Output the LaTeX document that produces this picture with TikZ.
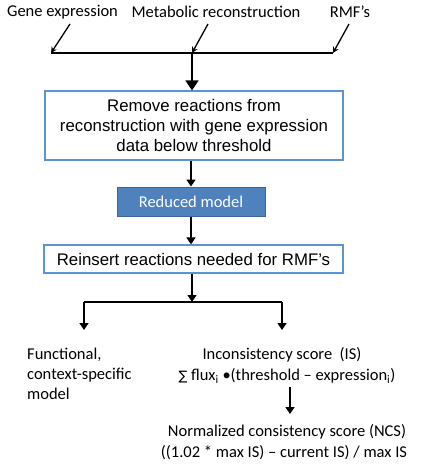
\documentclass[tikz,border=0pt]{standalone}
\usepackage{fontspec}
\setmainfont{Carlito}
\newfontfamily\arialf{Liberation Sans}
\newfontfamily\symf{DejaVu Sans}
\usetikzlibrary{arrows.meta}
\definecolor{lightbord}{HTML}{5E92D2}
\definecolor{redfill}{HTML}{4F81BD}
\definecolor{reddraw}{HTML}{3B6699}
\tikzset{
  lbl/.style={font=\fontsize{16.5}{20}\selectfont, inner sep=0pt},
  boxw/.style={draw=lightbord, line width=1.2pt, fill=white, font=\arialf\fontsize{16.8}{20}\selectfont, align=center, inner sep=0pt},
  boxb/.style={draw=reddraw, line width=1pt, fill=redfill, text=white, font=\fontsize{16.5}{20}\selectfont, inner sep=0pt},
  conn/.style={line width=1.6pt},
  arr/.style={line width=1.5pt, -{Triangle[width=9pt,length=7pt]}},
  bigarr/.style={line width=1.5pt, -{Triangle[width=13pt,length=10pt]}},
  thinarr/.style={line width=1.3pt, -{Stealth[width=6pt,length=6pt]}},
}
\begin{document}
\begin{tikzpicture}[x=1pt,y=-1pt]
\useasboundingbox (0,0) rectangle (421,475);
% top labels
\node[lbl] (gene) at (62.5,12) {Gene expression};
\node[lbl] (metab) at (216,12) {Metabolic reconstruction};
\node[lbl] (rmf) at (350,12) {RMF’s};
\coordinate (g1) at (70,24); \coordinate (g2) at (51,53);
\coordinate (m1) at (208,24); \coordinate (m2) at (192,53);
\coordinate (r1) at (349,24); \coordinate (r2) at (333,53);
\draw[thinarr] (g1) -- (g2);
\draw[thinarr] (m1) -- (m2);
\draw[thinarr] (r1) -- (r2);
\draw[conn] (g2) -- (r2);
% boxes
\node[boxw, minimum width=298pt, minimum height=69pt] (box1) at (194,125.5)
  {Remove reactions from\\reconstruction with gene expression\\data below threshold};
\node[boxb, minimum width=148pt, minimum height=29pt] (red) at (191,201.5) {Reduced model};
\node[boxw, minimum width=299pt, minimum height=28pt] (reins) at (193.5,259)
  {Reinsert reactions needed for RMF’s};
\draw[bigarr] (m2) -- (m2 |- box1.north);
\draw[arr] (box1.south -| red.north) -- (red.north);
\draw[arr] (red.south) -- (red.south |- reins.north);
% branch
\coordinate (br) at (192,302);
\coordinate (bl) at (84,302);
\coordinate (brr) at (282,302);
\coordinate (fl) at (84,330);
\coordinate (fr) at (282,330);
\draw[arr] (reins.south -| br) -- (br);
\draw[conn] (bl) -- (brr);
\draw[arr] (bl) -- (fl);
\draw[arr] (brr) -- (fr);
% bottom texts
\node[lbl, anchor=west, align=left] (func) at (27,374)
  {Functional,\\context-specific\\model};
\node[lbl] (is) at (282,355) {Inconsistency score\ \ (IS)};
\node[lbl] (sum) at (287,376) {{\symf\fontsize{13}{16}\selectfont ∑} flux\textsubscript{i} •(threshold – expression\textsubscript{i})};
\coordinate (a1) at (290,387);
\coordinate (a2) at (290,414);
\draw[arr] (a1) -- (a2);
\node[lbl] (ncs) at (287,432) {Normalized consistency score (NCS)};
\node[lbl] (form) at (284,453) {((1.02 * max IS) – current IS) / max IS};
\end{tikzpicture}
\end{document}
